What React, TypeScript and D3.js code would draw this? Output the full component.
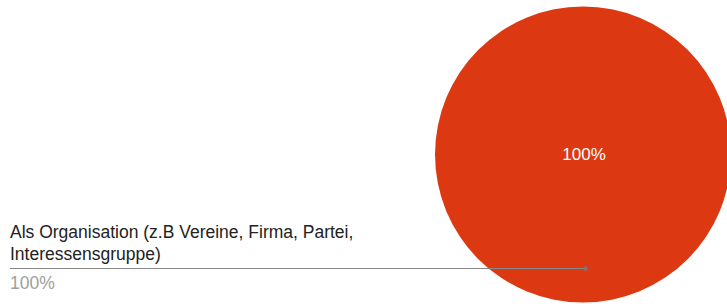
import * as d3 from 'd3'
import { FC, useMemo } from 'react'

const WIDTH = 727
const HEIGHT = 304
const CENTER = { x: 583, y: 154.5 }
const RADIUS = 148
const FONT = 'Arial, "Liberation Sans", sans-serif'

// data
const categories = ['Als Organisation (z.B Vereine, Firma, Partei, Interessensgruppe)']
const values = [100]
const colors = ['#dc3912']
const legendLines = [['Als Organisation (z.B Vereine, Firma, Partei,', 'Interessensgruppe)']]

const PieChart: FC = () => {
  const total = d3.sum(values)

  const slices = useMemo(() => {
    return d3.pie<number>().sort(null)(values)
  }, [])

  const arcGen = d3.arc<d3.PieArcDatum<number>>().innerRadius(0).outerRadius(RADIUS)
  const anchorArc = d3
    .arc<d3.PieArcDatum<number>>()
    .innerRadius(RADIUS * 0.77)
    .outerRadius(RADIUS * 0.77)

  const pct = d3.format('.0%')

  return (
    <svg
      width={WIDTH}
      height={HEIGHT}
      style={{ position: 'absolute', left: 0, top: 0 }}
      fontFamily={FONT}
    >
      <g transform={`translate(${CENTER.x},${CENTER.y})`}>
        {slices.map((s, i) => (
          <path key={i} d={arcGen(s) as string} fill={colors[i]} />
        ))}
        {slices.map((s, i) => (
          <text
            key={'l' + i}
            x={1}
            y={0}
            dy='0.35em'
            textAnchor='middle'
            fill='#ffffff'
            fontSize={17}
          >
            {pct(s.value / total)}
          </text>
        ))}
      </g>

      {slices.map((s, i) => {
        const [ax, ay] = anchorArc.centroid(s)
        const lineY = 268.5
        return (
          <g key={'legend' + i}>
            <line
              x1={10}
              x2={CENTER.x + ax + 2.5}
              y1={lineY}
              y2={lineY}
              stroke='#888888'
              strokeWidth={1}
            />
            <circle cx={CENTER.x + ax + 2.5} cy={CENTER.y + ay} r={2.2} fill='#777777' />
            {legendLines[i].map((t, j) => (
              <text key={j} x={10} y={238 + j * 21.5} fontSize={17.5} fill='#222222'>
                {t}
              </text>
            ))}
            <text x={10} y={288.5} fontSize={17.5} fill='#9e9e9e'>
              {pct(s.value / total)}
            </text>
          </g>
        )
      })}
      <title>{categories[0]}</title>
    </svg>
  )
}

export default function App() {
  return <PieChart />
}
